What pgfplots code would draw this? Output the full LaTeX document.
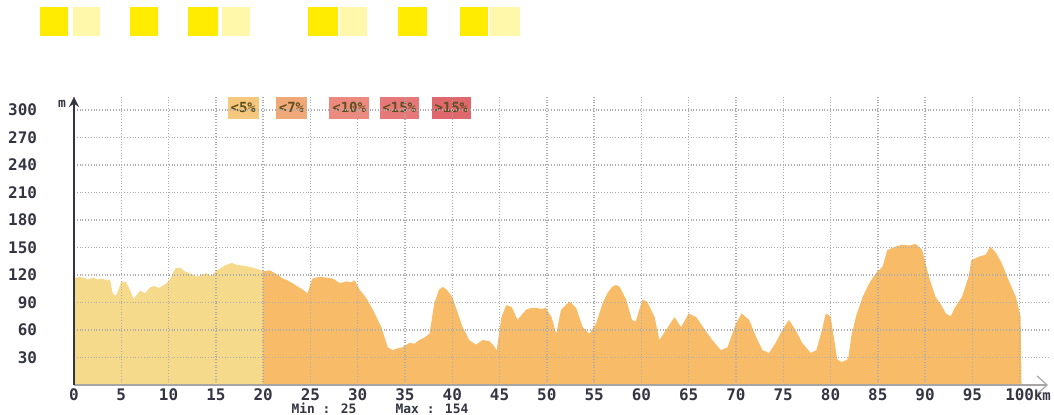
\documentclass[border=0pt]{standalone}
\usepackage{fontspec}
\setmainfont{DejaVu Sans Mono}
\usepackage{pgfplots}
\pgfplotsset{compat=1.18}
\usetikzlibrary{arrows.meta}
\definecolor{lightfill}{RGB}{246,218,140}
\definecolor{orangefill}{RGB}{248,188,104}
\definecolor{tickcol}{RGB}{52,52,66}
\definecolor{yel}{RGB}{255,236,0}
\definecolor{yellight}{RGB}{255,248,170}
\definecolor{lgA}{RGB}{245,200,125}
\definecolor{lgB}{RGB}{240,168,120}
\definecolor{lgC}{RGB}{236,138,128}
\definecolor{lgD}{RGB}{230,120,122}
\definecolor{lgE}{RGB}{222,104,110}
\definecolor{lgtext}{RGB}{95,80,30}
\begin{document}
\begin{tikzpicture}[x=1bp,y=1bp]
\path[use as bounding box] (0,0) rectangle (527,207);
% scanned header squares
\fill[yel] (20,189) rectangle (34,203.5);
\fill[yellight] (36.5,189) rectangle (50,203.5);
\fill[yel] (65,189) rectangle (79,203.5);
\fill[yel] (94,189) rectangle (109,203.5);
\fill[yellight] (111,189) rectangle (125,203.5);
\fill[yel] (154,189) rectangle (169,203.5);
\fill[yellight] (170,189) rectangle (183.5,203.5);
\fill[yel] (199,189) rectangle (213.5,203.5);
\fill[yel] (230,189) rectangle (244,203.5);
\fill[yellight] (245,189) rectangle (260,203.5);
\begin{axis}[
  at={(37bp,14.5bp)}, anchor=south west,
  scale only axis, width=487bp, height=144bp,
  xmin=0, xmax=103, ymin=0, ymax=314,
  axis x line=bottom, axis y line=left,
  x axis line style={-{Straight Barb[length=5bp,width=9bp]}, gray!70, line width=0.6pt},
  y axis line style={-{Stealth[length=5bp,width=5bp]}, tickcol, line width=1.4pt},
  xtick={0,5,...,100}, ytick={30,60,...,300},
  xticklabels={0,5,10,15,20,25,30,35,40,45,50,55,60,65,70,75,80,85,90,95,{100\rlap{\fontsize{7}{8}\selectfont km}}},
  major tick length=0pt,
  grid=major,
  major grid style={densely dotted, gray!65, line width=0.7pt},
  axis on top,
  /pgf/number format/assume math mode=true,
  ticklabel style={font=\fontsize{8}{9}\selectfont\bfseries, text=tickcol},
  xticklabel style={yshift=1.5bp},
  yticklabel style={xshift=-15bp},
]
\addplot[fill=lightfill, draw=none] coordinates {
(0,116) (0.5,118) (1,117) (1.5,115) (2,117) (2.5,115) (3,116) (3.5,114) (3.8,115)
(4.1,100) (4.4,97) (4.7,104) (5,113) (5.5,112) (5.9,104) (6.3,94) (6.7,99)
(7,103) (7.5,100) (8,106) (8.4,108) (9,106) (9.8,111) (10.3,118) (10.7,127)
(11.2,128) (11.7,124) (12.2,122) (13,118) (13.5,120) (14,122) (14.5,119)
(15.1,125) (15.6,128) (16.1,131) (16.7,133) (17.2,131) (18,130) (18.9,128)
(19.5,126) (20,124)
} \closedcycle;
\addplot[fill=orangefill, draw=none] coordinates {
(20,124) (20.7,125) (21.4,121) (22.1,116) (22.6,114) (23.1,111) (23.7,107)
(24.2,104) (24.7,100) (25,110) (25.2,116) (26,118) (26.7,117) (27.4,116)
(28.1,111) (28.8,113) (29.3,112) (29.7,114) (30.2,104) (30.9,95) (31.4,86)
(31.8,78) (32.5,63) (32.9,50) (33.2,41) (33.7,38) (34.2,40) (34.7,41)
(35.5,46) (36,45) (36.5,49) (37.1,52) (37.6,56) (38.1,89) (38.6,104) (39,107)
(39.4,104) (40,96) (40.6,78) (41.1,63) (41.8,49) (42.5,44) (43.2,49) (43.9,48)
(44.3,44) (44.7,38) (45.2,74) (45.7,87) (46.3,85) (46.9,71) (47.3,76)
(47.8,82) (48.3,84) (48.9,84) (49.4,83) (49.9,84) (50.5,74) (51,56) (51.5,82)
(52.4,91) (53.1,84) (53.8,63) (54.5,56) (55.2,67) (55.9,89) (56.4,100)
(56.9,107) (57.3,109) (57.7,107) (58.4,93) (59,71) (59.4,69) (60.1,93)
(60.6,91) (61.4,74) (61.9,49) (62.6,60) (63.5,74) (64.2,63) (65,78) (65.8,74)
(66.6,62) (67.5,49) (68.4,38) (69.1,41) (70,67) (70.6,78) (71.4,71) (72.1,53)
(72.8,38) (73.5,35) (74.2,46) (74.9,60) (75.6,71) (76.3,60) (77,46) (77.9,35)
(78.5,38) (79.1,60) (79.5,78) (80,75) (80.4,49) (80.7,28) (81.2,25) (81.8,28)
(81.9,31) (82.2,53) (82.7,75) (83.4,96) (84.1,111) (84.8,122) (85.5,129)
(86,147) (86.9,151) (87.6,153) (88.3,152) (89,154) (89.7,147) (90.4,118)
(91.1,96) (91.6,89) (92.2,78) (92.7,75) (93.2,85) (93.9,96) (94.6,118)
(94.9,136) (95.7,140) (96.4,142) (96.9,151) (97.5,144) (98.1,133) (98.8,115)
(99.6,96) (100.1,75) (100.2,0)
} \closedcycle;
\begin{scope}[every node/.style={font=\fontsize{7}{8}\selectfont\bfseries, text=lgtext, inner xsep=1.5bp, minimum height=10bp, anchor=center}]
\node[fill=lgA] at (17.9,303) {<5\%};
\node[fill=lgB] at (23.0,303) {<7\%};
\node[fill=lgC] at (29.1,303) {<10\%};
\node[fill=lgD] at (34.4,303) {<15\%};
\node[fill=lgE] at (39.9,303) {>15\%};
\end{scope}
\end{axis}
\node[font=\fontsize{6.5}{7}\selectfont\bfseries, text=tickcol] at (31,155) {m};
\node[font=\fontsize{6.5}{7}\selectfont\bfseries, text=tickcol] at (162,2.8) {Min : 25};
\node[font=\fontsize{6.5}{7}\selectfont\bfseries, text=tickcol] at (216,2.8) {Max : 154};
\end{tikzpicture}
\end{document}
